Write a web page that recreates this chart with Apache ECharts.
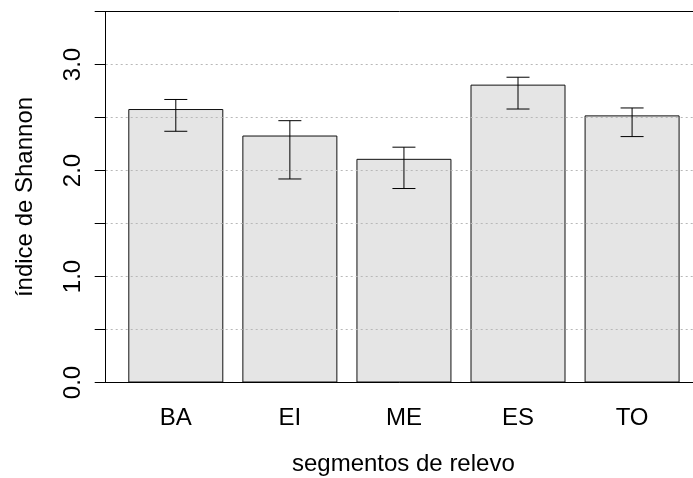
<!DOCTYPE html>
<html>
<head>
<meta charset="utf-8">
<script src="https://cdn.jsdelivr.net/npm/echarts@6/dist/echarts.min.js"></script>
<style>html,body{margin:0;padding:0;background:#fff}#c{width:693px;height:478px}</style>
</head>
<body>
<div id="c"></div>
<script>
const categories = ['BA', 'EI', 'ME', 'ES', 'TO'];
const means = [2.58, 2.33, 2.11, 2.81, 2.52];
const lower = [2.37, 1.92, 1.83, 2.58, 2.32];
const upper = [2.67, 2.47, 2.22, 2.88, 2.59];
const yTicks = [0, 0.5, 1, 1.5, 2, 2.5, 3, 3.5];
const yLabels = ['0.0', '', '1.0', '', '2.0', '', '3.0', ''];

const FONT = '"Liberation Sans", Arial, Helvetica, sans-serif';
const idx = categories.map((_, i) => i);
const barData = means.map((v, i) => [i, v]);
const errData = idx.map(i => [i, lower[i], upper[i]]);

const chart = echarts.init(document.getElementById('c'), null, {renderer: 'canvas'});
chart.setOption({
  animation: false,
  backgroundColor: '#ffffff',
  textStyle: {fontFamily: FONT},
  grid: {left: 105.7, right: 0, top: 11.5, bottom: 95.5, containLabel: false, outerBoundsMode: 'none'},
  xAxis: [{
    type: 'value', position: 'bottom', min: -0.6145, max: 4.534, z: 3,
    axisLine: {show: true, onZero: false, lineStyle: {color: '#000', width: 1}},
    axisTick: {show: false},
    splitLine: {show: false},
    axisLabel: {
      show: true, customValues: idx, margin: 23.5,
      fontSize: 24, color: '#000', fontFamily: FONT,
      formatter: v => categories[Math.round(v)] || ''
    },
    name: 'segmentos de relevo', nameLocation: 'middle', nameGap: 69.5,
    nameTextStyle: {fontSize: 24, color: '#000', fontFamily: FONT, padding: [0, 0, 0, 8]}
  }, {
    type: 'value', position: 'top', min: -0.6145, max: 4.534, z: 3,
    axisLine: {show: true, onZero: false, lineStyle: {color: '#000', width: 1}},
    axisTick: {show: false}, axisLabel: {show: false}, splitLine: {show: false}
  }],
  yAxis: {
    type: 'value', min: 0, max: 3.5, interval: 0.5, z: 3,
    axisLine: {show: true, onZero: false, lineStyle: {color: '#000', width: 1}},
    axisTick: {show: true, inside: false, length: 11, lineStyle: {color: '#000', width: 1}},
    splitLine: {show: true, lineStyle: {color: '#b8b8b8', width: 1, type: [2, 3]}},
    axisLabel: {
      rotate: 90, margin: 20, fontSize: 24, color: '#000', fontFamily: FONT,
      showMaxLabel: true,
      formatter: v => { const k = yTicks.findIndex(t => Math.abs(t - v) < 1e-6); return k >= 0 ? yLabels[k] : ''; }
    },
    name: 'índice de Shannon', nameLocation: 'middle', nameGap: 68,
    nameTextStyle: {fontSize: 24, color: '#000', fontFamily: FONT}
  },
  series: [{
    type: 'bar', data: barData, barWidth: 95, z: 2,
    itemStyle: {color: '#e5e5e5', borderColor: '#111', borderWidth: 1}
  }, {
    type: 'custom', data: errData, z: 4,
    renderItem: function (params, api) {
      const x = api.value(0);
      const lo = api.coord([x, api.value(1)]);
      const hi = api.coord([x, api.value(2)]);
      const hw = 11.5;
      const st = {stroke: '#000', lineWidth: 1};
      return {type: 'group', children: [
        {type: 'line', shape: {x1: hi[0], y1: hi[1], x2: lo[0], y2: lo[1]}, style: st},
        {type: 'line', shape: {x1: hi[0] - hw, y1: hi[1], x2: hi[0] + hw, y2: hi[1]}, style: st},
        {type: 'line', shape: {x1: lo[0] - hw, y1: lo[1], x2: lo[0] + hw, y2: lo[1]}, style: st}
      ]};
    }
  }]
});
</script>
</body>
</html>
